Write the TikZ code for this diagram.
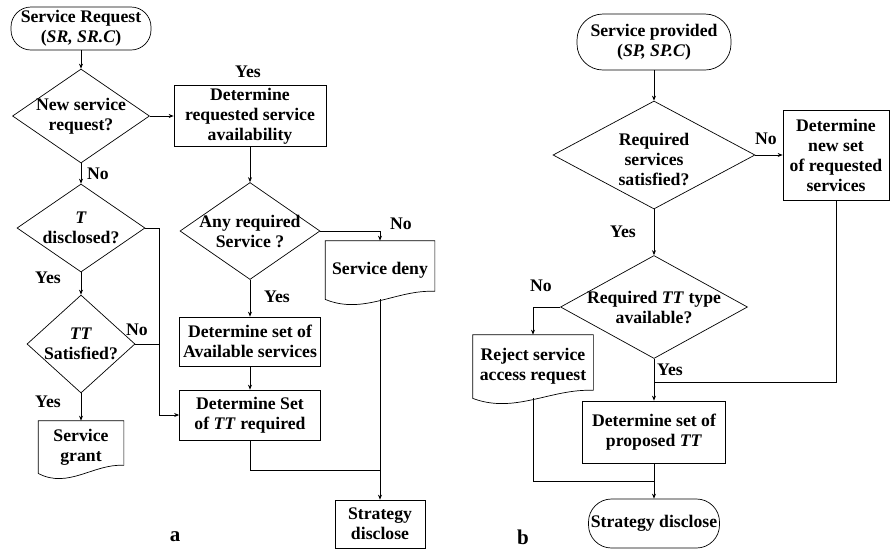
\documentclass[tikz,border=0pt]{standalone}
\usepackage{fontspec}
\setmainfont{Liberation Serif}
\usepackage{tikz}
\usetikzlibrary{arrows.meta}
\usetikzlibrary{shapes.geometric}
\usetikzlibrary{calc}

\newcommand{\docshape}[1]{%
        \draw (#1.north west) -- (#1.north east) -- ($(#1.south east)+(0,-8)$)
            .. controls ($(#1.south west)!0.65!(#1.south east)+(0,-10)$)
            and ($(#1.south west)!0.35!(#1.south east)+(0,16)$) .. (#1.south west) -- cycle;}

\tikzset{
        every node/.style={font=\bfseries\fontsize{17.7}{20}\selectfont},
        term/.style={draw, rounded corners=#1, align=center, inner sep=1pt},
        proc/.style={draw, rectangle, align=center, inner sep=1pt},
        dec/.style={draw, diamond, inner sep=0pt},
        docu/.style={rectangle, align=center, inner sep=1pt},
        txt/.style={align=center, inner sep=0pt},
        panel/.style={font=\bfseries\fontsize{21}{24}\selectfont},
}

\begin{document}
\begin{tikzpicture}[>={Stealth[length=5pt,width=4pt]}, x=1pt, y=-1pt, line width=0.7pt]
        \useasboundingbox (0,0) rectangle (891,550);
        % a
        \node[term=20pt, minimum width=140pt, minimum height=43pt] (sr) at (81,28.5) {Service Request\\(\textit{SR, SR.C})};
        \node[dec, minimum width=137pt, minimum height=94pt, label={[txt]center:{New service\\request?}}] (q1) at (81,116) {};
        \node[proc, minimum width=152pt, minimum height=61pt] (d1) at (250,116) {Determine\\requested service\\availability};
        \node[dec, minimum width=128pt, minimum height=88pt, label={[txt]center:{\textit{T}\\disclosed?}}] (q2) at (81,228) {};
        \node[dec, minimum width=108pt, minimum height=98pt, label={[txt]center:{\textit{TT}\\Satisfied?}}] (q3) at (81,344) {};
        \node[docu, minimum width=85pt, minimum height=52pt] (grant) at (81,447) {Service\\grant};
        \docshape{grant}
        \node[dec, minimum width=140pt, minimum height=97pt, label={[txt]center:{Any required\\Service ?}}] (q4) at (250,231) {};
        \node[docu, minimum width=109pt, minimum height=58pt] (deny) at (380,270) {Service deny};
        \docshape{deny}
        \node[proc, minimum width=141pt, minimum height=49pt] (d2) at (250,341.5) {Determine set of\\Available services};
        \node[proc, minimum width=141pt, minimum height=50pt] (d3) at (250,415) {Determine Set\\of \textit{TT} required};
        \node[proc, minimum width=90pt, minimum height=48pt] (sda) at (380,524) {Strategy\\disclose};
        \coordinate (ja) at (160,344);
        \coordinate (ma) at (380,470);
        \draw[->] (sr) -- (q1);
        \draw[->] (q1) -- (d1);
        \draw[->] (q1) -- (q2);
        \draw[->] (q2) -- (q3);
        \draw[->] (q3) -- (grant);
        \draw[->] (q2.east) -| ([xshift=-20pt]d3.west) -- (d3.west);
        \draw (q3.east) -- (ja);
        \draw[->] (d1) -- (q4);
        \draw[->] (q4.east) -| (deny.north);
        \draw[->] (q4) -- (d2);
        \draw[->] (d2) -- (d3);
        \draw (d3.south) |- (ma);
        \draw[->] (deny.south) -- (sda.north);
        \node (ya1) at (248,72) {Yes};
        \node (na1) at (98,174) {No};
        \node (ya2) at (48,278) {Yes};
        \node (na2) at (137,330) {No};
        \node (ya3) at (48,402) {Yes};
        \node (na3) at (401,224) {No};
        \node (ya4) at (277,297) {Yes};
        \node[panel] (la) at (175,537) {a};
        % b
        \node[term=26pt, minimum width=154pt, minimum height=56pt] (sp) at (654,42) {Service provided\\(\textit{SP, SP.C})};
        \node[dec, minimum width=202pt, minimum height=108pt, label={[txt, yshift=-4pt]center:{Required\\services\\satisfied?}}] (q5) at (654,155) {};
        \node[proc, minimum width=106pt, minimum height=90pt] (d5) at (836,155) {Determine\\new set\\of requested\\services};
        \node[dec, minimum width=187pt, minimum height=103pt, label={[txt]center:{Required \textit{TT} type\\available?}}] (q6) at (654,307) {};
        \node[docu, minimum width=120pt, minimum height=63pt] (rej) at (533,366.5) {Reject service\\access request};
        \docshape{rej}
        \node[proc, minimum width=143pt, minimum height=62pt] (d6) at (654,432) {Determine set of\\proposed \textit{TT}};
        \node[term=23pt, minimum width=131pt, minimum height=49pt] (sdb) at (654,523.5) {Strategy disclose};
        \coordinate (mb1) at (654,382);
        \coordinate (mb2) at (654,481);
        \draw[->] (sp) -- (q5);
        \draw[->] (q5.east) -- (d5.west);
        \draw[->] (q5) -- (q6);
        \draw (d5.south) |- (mb1);
        \draw[->] (q6.west) -| (rej.north);
        \draw[->] (q6) -- (d6);
        \draw (rej.south) |- (mb2);
        \draw[->] (d6) -- (sdb);
        \node (nb1) at (766,139) {No};
        \node (yb1) at (623,232) {Yes};
        \node (nb2) at (541,286) {No};
        \node (yb2) at (670,370) {Yes};
        \node[panel] (lb) at (523,537) {b};
\end{tikzpicture}
\end{document}
